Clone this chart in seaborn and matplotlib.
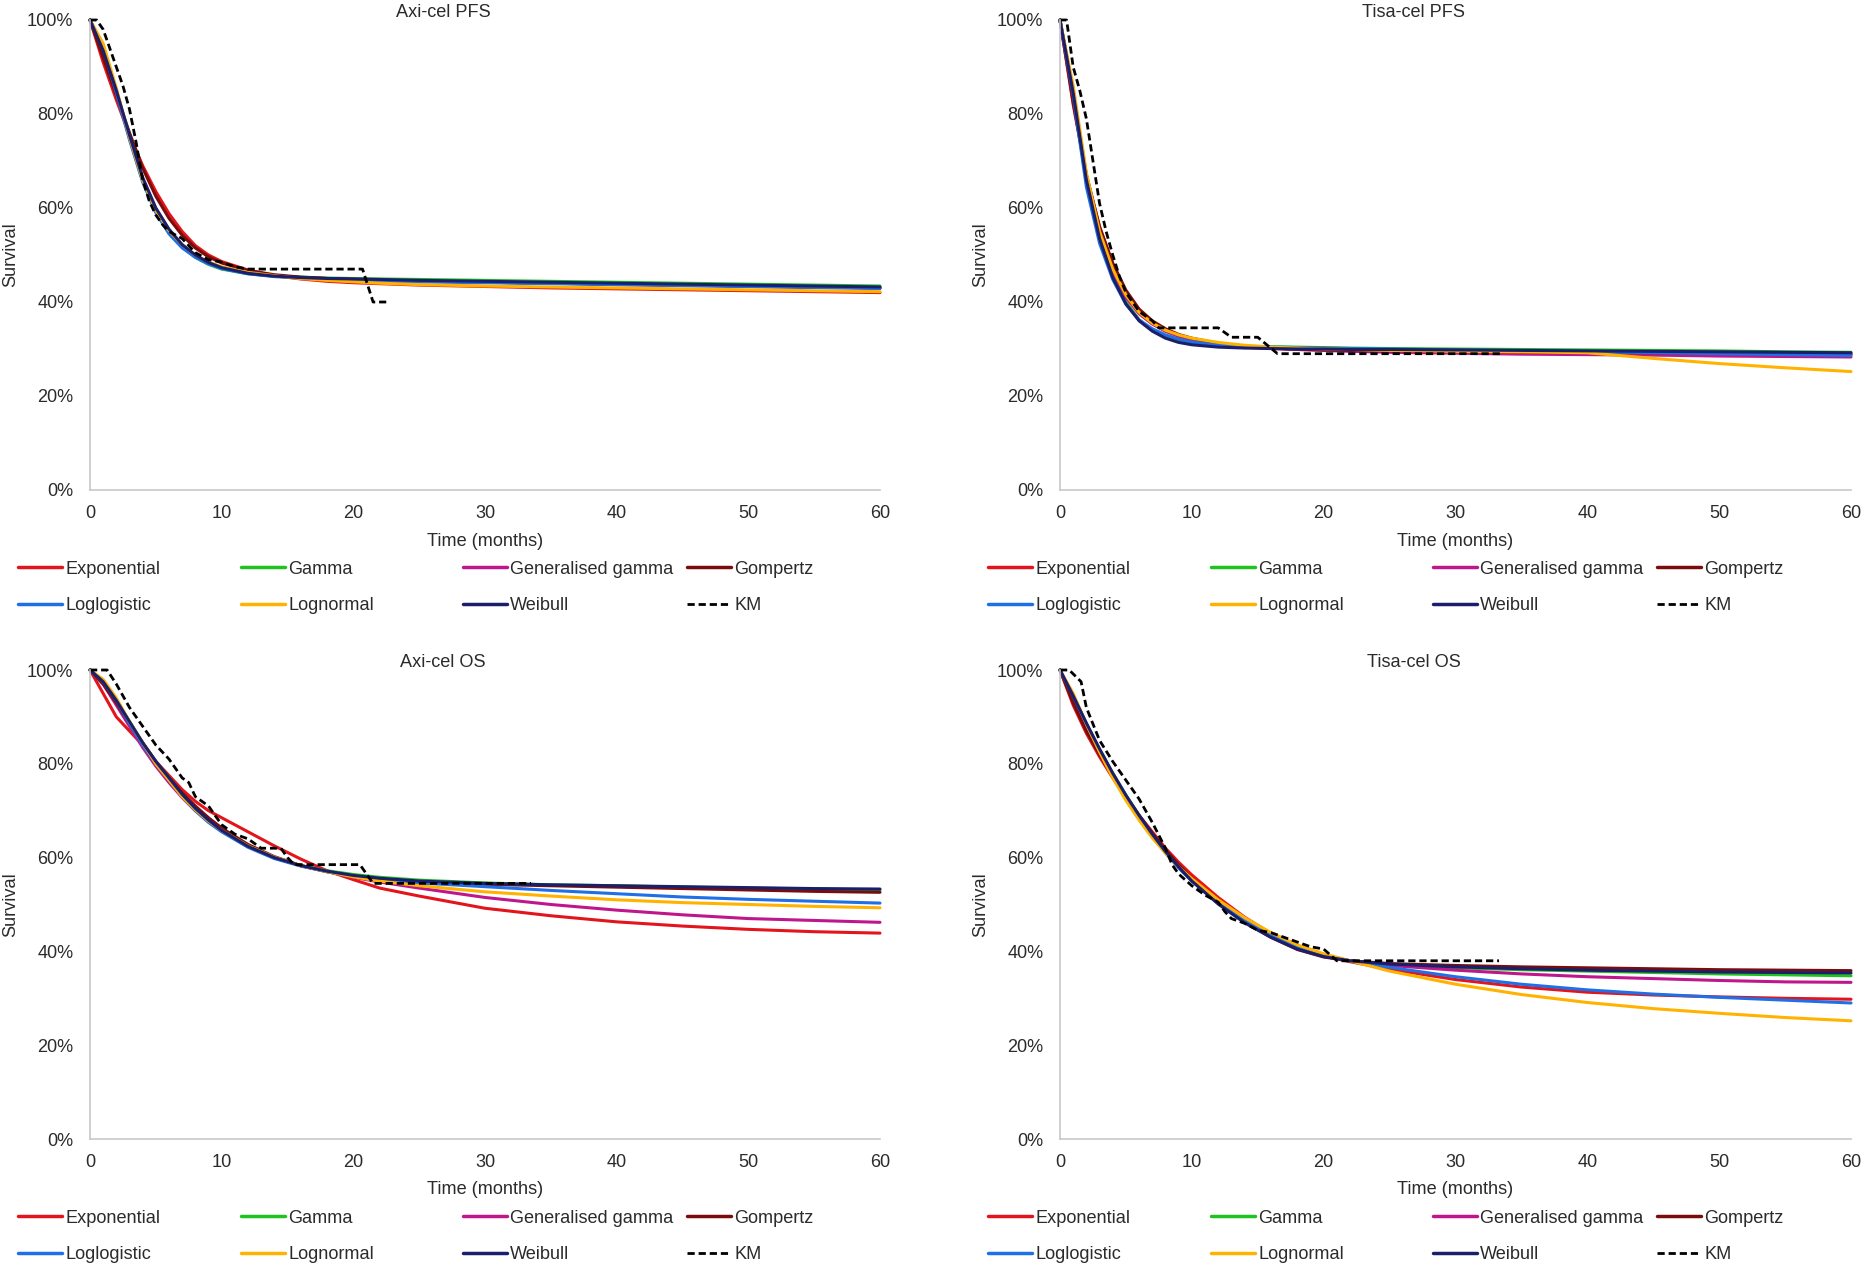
import matplotlib
matplotlib.use("Agg")
import matplotlib.pyplot as plt
import numpy as np
import pandas as pd
import seaborn as sns
from matplotlib.lines import Line2D
from matplotlib.ticker import PercentFormatter

# ---------------- data (survival in %) ----------------
months = [0, 1, 2, 3, 4, 5, 6, 7, 8, 9, 10, 12, 14, 16, 18, 20, 22, 25, 30, 35, 40, 45, 50, 55, 60]
models = ["Exponential", "Gamma", "Generalised gamma", "Gompertz",
          "Loglogistic", "Lognormal", "Weibull"]
panel_titles = ["Axi-cel PFS", "Tisa-cel PFS", "Axi-cel OS", "Tisa-cel OS"]
x_ticks = [0, 10, 20, 30, 40, 50, 60]
y_ticks = [0, 20, 40, 60, 80, 100]

# Axi-cel PFS
axi_pfs_exponential = [100, 91, 83, 75.5, 69, 63.5, 58.8, 55, 52, 50, 48.6, 46.8, 45.6, 44.9, 44.4, 44.1, 43.9, 43.6, 43.3, 43.0, 42.8, 42.6, 42.4, 42.2, 42.0]
axi_pfs_gamma = [100, 94, 85, 75, 66, 59.5, 55, 51.8, 49.5, 48.0, 47.0, 46.0, 45.5, 45.3, 45.1, 45.0, 44.9, 44.8, 44.6, 44.4, 44.2, 44.0, 43.8, 43.6, 43.4]
axi_pfs_gengamma = [100, 94, 85, 75, 66.2, 59.8, 55.2, 52, 49.8, 48.3, 47.3, 46.2, 45.6, 45.2, 45.0, 44.8, 44.6, 44.4, 44.2, 44.0, 43.7, 43.5, 43.3, 43.1, 42.9]
axi_pfs_gompertz = [100, 92, 84, 76, 68.5, 62.5, 57.8, 54.2, 51.5, 49.6, 48.3, 46.7, 45.8, 45.3, 45.0, 44.8, 44.6, 44.4, 44.2, 44.0, 43.8, 43.6, 43.4, 43.2, 43.0]
axi_pfs_loglogistic = [100, 94, 84.5, 74.5, 65.5, 59, 54.5, 51.5, 49.5, 48.1, 47.1, 46.0, 45.4, 45.1, 44.9, 44.7, 44.5, 44.3, 44.1, 43.9, 43.7, 43.5, 43.3, 43.1, 42.9]
axi_pfs_lognormal = [100, 95, 85.5, 75, 66, 59.5, 55.2, 52.2, 50.0, 48.5, 47.5, 46.3, 45.6, 45.0, 44.6, 44.3, 44.0, 43.7, 43.4, 43.2, 43.0, 42.8, 42.6, 42.4, 42.2]
axi_pfs_weibull = [100, 93.5, 85, 75.5, 66.5, 60, 55.5, 52.2, 50, 48.4, 47.3, 46.1, 45.5, 45.2, 45.0, 44.9, 44.8, 44.6, 44.4, 44.2, 44.0, 43.8, 43.6, 43.4, 43.2]
axi_pfs_km_t = [0, 0.5, 1, 1.5, 2, 2.5, 3, 3.5, 4, 4.5, 5, 5.5, 6, 7, 7.5, 8, 9, 10, 11, 12, 20.7, 21.5, 22.5]
axi_pfs_km_s = [100, 100, 98, 94, 90, 86, 81, 74, 66, 61.5, 58.5, 56.5, 55, 53.5, 52, 50.5, 49, 48.5, 47.5, 47, 47, 40, 40]

# Tisa-cel PFS
tisa_pfs_exponential = [100, 82, 67, 56, 48, 42, 38, 35.5, 33.8, 32.7, 32.0, 31.0, 30.4, 30.1, 29.9, 29.8, 29.7, 29.6, 29.5, 29.4, 29.3, 29.2, 29.1, 29.0, 28.9]
tisa_pfs_gamma = [100, 84, 65.5, 53.5, 45.5, 40, 36.2, 34, 32.6, 31.8, 31.3, 30.8, 30.6, 30.5, 30.4, 30.3, 30.2, 30.1, 30.0, 29.9, 29.8, 29.7, 29.6, 29.4, 29.3]
tisa_pfs_gengamma = [100, 85, 67, 54.5, 46.5, 41, 37.5, 35.3, 33.8, 32.8, 32.1, 31.2, 30.6, 30.2, 29.9, 29.7, 29.5, 29.3, 29.1, 28.9, 28.8, 28.7, 28.5, 28.4, 28.3]
tisa_pfs_gompertz = [100, 82.5, 67, 56, 48.3, 42.5, 38.5, 36, 34.3, 33.1, 32.3, 31.2, 30.6, 30.2, 30.0, 29.8, 29.7, 29.6, 29.5, 29.4, 29.3, 29.2, 29.1, 29.0, 28.9]
tisa_pfs_loglogistic = [100, 84, 64.5, 52.5, 44.8, 39.5, 36.2, 34.3, 33.0, 32.1, 31.5, 30.8, 30.5, 30.4, 30.3, 30.2, 30.1, 30.0, 29.8, 29.6, 29.4, 29.2, 29.0, 28.8, 28.6]
tisa_pfs_lognormal = [100, 86, 67.5, 55, 47, 41.5, 37.8, 35.5, 34, 33, 32.3, 31.4, 30.8, 30.4, 30.2, 30.0, 29.9, 29.7, 29.5, 29.4, 29.2, 28.0, 26.9, 26.0, 25.2]
tisa_pfs_weibull = [100, 84.5, 66, 53.5, 45.2, 39.6, 36, 33.8, 32.3, 31.4, 30.9, 30.4, 30.2, 30.1, 30.0, 30.0, 29.9, 29.9, 29.8, 29.7, 29.6, 29.5, 29.4, 29.3, 29.2]
tisa_pfs_km_t = [0, 0.5, 1, 1.5, 2, 2.5, 3, 3.5, 4, 4.5, 5, 6, 7, 7.5, 12, 13, 15, 16.5, 33.5]
tisa_pfs_km_s = [100, 100, 90, 85, 79, 70, 61, 55, 50, 45.5, 42, 38, 36, 34.5, 34.5, 32.5, 32.5, 29, 29]

# Axi-cel OS
axi_os_exponential = [100, 95, 90, 87, 84, 80.5, 77.5, 74.5, 72, 70, 68.5, 65.5, 62.5, 59.7, 57.2, 55.3, 53.5, 51.8, 49.2, 47.6, 46.3, 45.4, 44.7, 44.2, 43.9]
axi_os_gamma = [100, 97.5, 93.5, 89, 84.5, 80.5, 77, 73.5, 70.5, 68, 65.8, 62.4, 60, 58.3, 57.2, 56.4, 55.8, 55.2, 54.6, 54.2, 54.0, 53.7, 53.5, 53.3, 53.1]
axi_os_gengamma = [100, 97, 92.5, 88, 83.5, 79.5, 76, 72.8, 70, 67.7, 65.7, 62.5, 60.1, 58.3, 57, 55.8, 54.8, 53.5, 51.5, 50.0, 48.8, 47.8, 47.0, 46.6, 46.2]
axi_os_gompertz = [100, 97, 93, 88.5, 84.5, 80.5, 77, 73.8, 71, 68.5, 66.3, 62.8, 60.2, 58.3, 57, 56, 55.3, 54.8, 54.3, 54.0, 53.7, 53.4, 53.1, 52.8, 52.6]
axi_os_loglogistic = [100, 97.5, 93.5, 88.5, 84, 80, 76.5, 73, 70, 67.5, 65.5, 62.2, 59.8, 58.2, 57.0, 56.0, 55.3, 54.6, 53.8, 53.0, 52.3, 51.6, 51.1, 50.7, 50.3]
axi_os_lognormal = [100, 98, 94, 89, 84.5, 80, 76.5, 73, 70.2, 67.8, 65.8, 62.5, 60.1, 58.3, 57, 55.9, 55.0, 54.0, 52.7, 51.8, 51.0, 50.4, 50.0, 49.6, 49.3]
axi_os_weibull = [100, 97.5, 93.5, 89, 84.5, 80.5, 77, 73.5, 70.5, 68, 65.8, 62.4, 60, 58.3, 57.1, 56.2, 55.6, 55.0, 54.5, 54.2, 54.0, 53.8, 53.6, 53.4, 53.3]
axi_os_km_t = [0, 1.3, 2, 3, 4, 5, 6, 7, 7.5, 8, 9, 10, 11, 12, 13, 14.5, 15, 15.5, 20.5, 21.5, 33.5]
axi_os_km_s = [100, 100, 97, 92, 88, 84, 81, 77, 76, 73, 71, 67, 65, 64, 62, 62, 60, 58.5, 58.5, 54.5, 54.5]

# Tisa-cel OS
tisa_os_exponential = [100, 92.5, 86.5, 81.5, 77, 73, 69, 65.5, 62, 59, 56.3, 51.5, 47.3, 43.8, 41, 39, 37.8, 36.2, 34.0, 32.4, 31.3, 30.7, 30.3, 30.0, 29.8]
tisa_os_gamma = [100, 94, 88.3, 83, 78, 73.3, 69, 65, 61.3, 58, 55.2, 50.4, 46.4, 43.2, 40.7, 39.0, 38.0, 37.2, 36.5, 36.1, 35.8, 35.5, 35.2, 35.0, 34.8]
tisa_os_gengamma = [100, 94, 88.2, 82.8, 77.8, 73, 68.8, 64.8, 61.2, 58, 55.2, 50.5, 46.6, 43.4, 40.9, 39.1, 38.0, 37.0, 36.0, 35.2, 34.6, 34.2, 33.8, 33.5, 33.4]
tisa_os_gompertz = [100, 93, 87, 82, 77.3, 73, 69, 65.2, 61.7, 58.4, 55.5, 50.4, 46.3, 43, 40.4, 38.8, 38.0, 37.4, 37.0, 36.7, 36.5, 36.3, 36.1, 36.0, 35.9]
tisa_os_loglogistic = [100, 94.5, 88.5, 82.8, 77.5, 72.8, 68.5, 64.6, 61, 57.8, 55, 50.3, 46.5, 43.4, 41, 39.2, 38.0, 36.6, 34.6, 33.0, 31.8, 30.9, 30.2, 29.6, 29.0]
tisa_os_lognormal = [100, 95, 88.5, 82.5, 77, 72.2, 68, 64.2, 61, 58, 55.5, 51, 47.2, 44, 41.4, 39.5, 38.0, 35.8, 33.0, 30.8, 29.1, 27.8, 26.8, 25.9, 25.2]
tisa_os_weibull = [100, 94.5, 88.7, 83.2, 78, 73.3, 69, 65, 61.3, 58, 55, 50.1, 46.1, 43, 40.5, 38.9, 38.0, 37.3, 36.7, 36.3, 36.0, 35.8, 35.6, 35.5, 35.4]
tisa_os_km_t = [0, 0.7, 1.6, 2, 3, 4, 5, 6, 7, 8, 8.5, 9, 10, 11, 12, 12.5, 13, 14, 15, 16, 17, 17.5, 19, 20, 21, 33.3]
tisa_os_km_s = [100, 100, 97.5, 92, 85, 80.5, 76.5, 72.5, 67.5, 62, 58.5, 56.5, 54, 52, 50.5, 48.5, 47, 46, 44.5, 44, 43, 42.5, 41, 40.5, 38, 38]

panel_curves = [
    [axi_pfs_exponential, axi_pfs_gamma, axi_pfs_gengamma, axi_pfs_gompertz,
     axi_pfs_loglogistic, axi_pfs_lognormal, axi_pfs_weibull],
    [tisa_pfs_exponential, tisa_pfs_gamma, tisa_pfs_gengamma, tisa_pfs_gompertz,
     tisa_pfs_loglogistic, tisa_pfs_lognormal, tisa_pfs_weibull],
    [axi_os_exponential, axi_os_gamma, axi_os_gengamma, axi_os_gompertz,
     axi_os_loglogistic, axi_os_lognormal, axi_os_weibull],
    [tisa_os_exponential, tisa_os_gamma, tisa_os_gengamma, tisa_os_gompertz,
     tisa_os_loglogistic, tisa_os_lognormal, tisa_os_weibull],
]
panel_km = [
    (axi_pfs_km_t, axi_pfs_km_s),
    (tisa_pfs_km_t, tisa_pfs_km_s),
    (axi_os_km_t, axi_os_km_s),
    (tisa_os_km_t, tisa_os_km_s),
]

# ---------------- style ----------------
colors = {
    "Exponential": "#e3141b",
    "Gamma": "#1fc21f",
    "Generalised gamma": "#c0168c",
    "Gompertz": "#7a0c0c",
    "Loglogistic": "#1f6fe6",
    "Lognormal": "#ffb300",
    "Weibull": "#1b1f6b",
}
KM_DASH = (0, (2.6, 1.4))
TEXT = "#2b2b2b"
FS = 13.1

sns.set_theme(style="white")
plt.rcParams["font.family"] = ["Liberation Sans", "DejaVu Sans"]

W, H = 1865, 1270
fig = plt.figure(figsize=(W / 100, H / 100), dpi=100)

# pixel boxes: left, top, right, bottom
boxes = [(90, 20, 880, 490), (1060, 20, 1851, 490),
         (90, 670, 880, 1139), (1060, 670, 1851, 1139)]

for i, (x0, y0, x1, y1) in enumerate(boxes):
    ax = fig.add_axes([x0 / W, 1 - y1 / H, (x1 - x0) / W, (y1 - y0) / H])
    frames = []
    for m, vals in zip(models, panel_curves[i]):
        frames.append(pd.DataFrame({"Time": months,
                                    "Survival": np.array(vals) / 100.0,
                                    "Model": m}))
    df = pd.concat(frames, ignore_index=True)
    sns.lineplot(data=df, x="Time", y="Survival", hue="Model", hue_order=models,
                 palette=colors, estimator=None, sort=False, linewidth=2.2,
                 legend=False, ax=ax, clip_on=False)
    kt, ks = panel_km[i]
    sns.lineplot(x=kt, y=np.array(ks) / 100.0, color="black", linewidth=2.0,
                 linestyle=KM_DASH, estimator=None, sort=False, ax=ax,
                 clip_on=False)

    ax.set_xlim(0, 60)
    ax.set_ylim(0, 1)
    ax.set_xticks(x_ticks)
    ax.set_yticks([v / 100 for v in y_ticks])
    ax.yaxis.set_major_formatter(PercentFormatter(1.0, decimals=0))
    ax.tick_params(axis="both", length=0, labelsize=FS, colors=TEXT)
    ax.tick_params(axis="x", pad=10.5)
    ax.tick_params(axis="y", pad=12)
    ax.set_xlabel("")
    ax.set_ylabel("")
    sns.despine(ax=ax)
    for s in ("left", "bottom"):
        ax.spines[s].set_color("#c8c8c8")
        ax.spines[s].set_linewidth(1.2)
    ax.grid(False)

    cx = (x0 + x1) / 2
    fig.text((cx - 42) / W, 1 - (y0 - 7.5) / H, panel_titles[i], ha="center",
             va="center", fontsize=FS, color=TEXT)
    fig.text(cx / W, 1 - (y1 + 51) / H, "Time (months)", ha="center",
             va="center", fontsize=FS, color=TEXT)
    fig.text((x0 - 79) / W, 1 - ((y0 + y1) / 2) / H, "Survival", ha="center",
             va="center", rotation=90, fontsize=FS, color=TEXT)

    # legend: 4 columns x 2 rows, row-major order
    entries = models + ["KM"]
    col_offsets = [-72, 151, 373, 597]
    ymid = y1 + 97.5
    for c in range(4):
        hs, ls = [], []
        for r in range(2):
            name = entries[r * 4 + c]
            if name == "KM":
                h = Line2D([], [], color="black", lw=2.0, linestyle=KM_DASH)
            else:
                h = Line2D([], [], color=colors[name], lw=2.5)
            hs.append(h)
            ls.append(name)
        leg = fig.legend(hs, ls, loc="center left",
                         bbox_to_anchor=((x0 + col_offsets[c]) / W, 1 - ymid / H),
                         frameon=False, fontsize=FS, handlelength=2.4,
                         handletextpad=0.2, borderpad=0, borderaxespad=0,
                         labelspacing=1.08)
        for t in leg.get_texts():
            t.set_color(TEXT)

fig.savefig("out.png", dpi=100)
